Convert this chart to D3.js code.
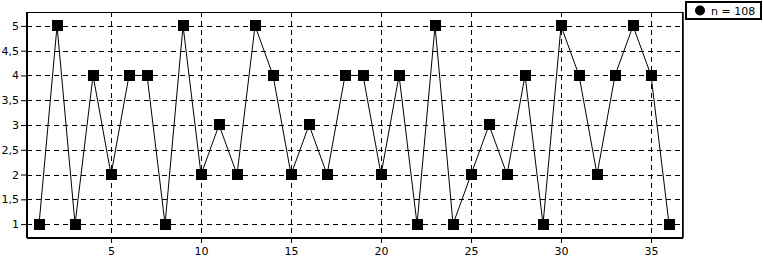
<!DOCTYPE html>
<html>
<head>
<meta charset="utf-8">
<script src="https://cdn.jsdelivr.net/npm/d3@7"></script>
<style>
  html, body { margin: 0; padding: 0; background: #fff; }
  text { font-family: "DejaVu Sans", sans-serif; font-size: 11px; fill: #000; }
</style>
</head>
<body>
<div id="plot"></div>
<script>
// data
var xValues = [1, 2, 3, 4, 5, 6, 7, 8, 9, 10, 11, 12, 13, 14, 15, 16, 17, 18,
  19, 20, 21, 22, 23, 24, 25, 26, 27, 28, 29, 30, 31, 32, 33, 34, 35, 36];
var yValues = [1, 5, 1, 4, 2, 4, 4, 1, 5, 2, 3, 2, 5, 4, 2, 3, 2, 4,
  4, 2, 4, 1, 5, 1, 2, 3, 2, 4, 1, 5, 4, 2, 4, 5, 4, 1];
var xTicks = [5, 10, 15, 20, 25, 30, 35];
var yTicks = [1, 1.5, 2, 2.5, 3, 3.5, 4, 4.5, 5];
var legendLabel = "n = 108";

var data = xValues.map(function(x, i) { return {x: x, y: yValues[i]}; });

var margin = {top: 12, right: 81, bottom: 22, left: 27};
var width = 763 - margin.left - margin.right;
var height = 259 - margin.top - margin.bottom;

var svg = d3.select("#plot")
  .append("svg")
  .attr("width", 763)
  .attr("height", 259);

var g = svg.append("g")
  .attr("transform", `translate(${margin.left}, ${margin.top})`);

var x = d3.scaleLinear()
  .domain([0.33, 36.72])
  .range([0, width]);

var y = d3.scaleLinear()
  .domain([0.74, 5.28])
  .range([height, 0]);

// grid
g.append("g")
  .selectAll("line")
  .data(yTicks)
  .join("line")
  .attr("x1", 0)
  .attr("x2", width)
  .attr("y1", d => Math.round(y(d)) + 0.5)
  .attr("y2", d => Math.round(y(d)) + 0.5)
  .attr("stroke", "#000")
  .attr("stroke-dasharray", "5,4");

g.append("g")
  .selectAll("line")
  .data(xTicks)
  .join("line")
  .attr("x1", d => Math.round(x(d)) + 0.5)
  .attr("x2", d => Math.round(x(d)) + 0.5)
  .attr("y1", 0)
  .attr("y2", height)
  .attr("stroke", "#000")
  .attr("stroke-dasharray", "5,4");

// frame
g.append("rect")
  .attr("x", 0.5)
  .attr("y", 0.5)
  .attr("width", width)
  .attr("height", height)
  .attr("fill", "none")
  .attr("stroke", "#000");

// Add Y axis
var yAxis = g.append("g")
  .call(d3.axisLeft(y)
    .tickValues(yTicks)
    .tickSize(6)
    .tickSizeOuter(0)
    .tickPadding(2)
    .tickFormat(d => String(d).replace(".", ",")));
yAxis.select(".domain").remove();
yAxis.selectAll("line").attr("stroke", "#000");
yAxis.selectAll("text").attr("font-size", 11).attr("font-family", "DejaVu Sans, sans-serif");

// Add X axis
var xAxis = g.append("g")
  .attr("transform", `translate(0, ${height})`)
  .call(d3.axisBottom(x)
    .tickValues(xTicks)
    .tickSize(6)
    .tickSizeOuter(0)
    .tickPadding(4));
xAxis.select(".domain").remove();
xAxis.selectAll("line").attr("stroke", "#000");
xAxis.selectAll("text").attr("font-size", 11).attr("font-family", "DejaVu Sans, sans-serif");

// thick left, bottom and right borders
g.append("line")
  .attr("x1", 0).attr("x2", 0)
  .attr("y1", 0).attr("y2", height + 1)
  .attr("stroke", "#000").attr("stroke-width", 2);
g.append("line")
  .attr("x1", 0).attr("x2", width + 1)
  .attr("y1", height + 1).attr("y2", height + 1)
  .attr("stroke", "#000").attr("stroke-width", 2);
g.append("line")
  .attr("x1", width + 1).attr("x2", width + 1)
  .attr("y1", 0).attr("y2", height + 1)
  .attr("stroke", "#000").attr("stroke-width", 1.5);

// Add the line
g.append("path")
  .datum(data)
  .attr("fill", "none")
  .attr("stroke", "#000")
  .attr("stroke-width", 1)
  .attr("d", d3.line()
    .x(d => x(d.x))
    .y(d => y(d.y)));

// square markers
var s = 11;
g.append("g")
  .selectAll("rect")
  .data(data)
  .join("rect")
  .attr("x", d => Math.round(x(d.x) - s / 2))
  .attr("y", d => Math.round(y(d.y) - s / 2))
  .attr("width", s)
  .attr("height", s)
  .attr("fill", "#000");

// legend
var legend = svg.append("g");
legend.append("rect")
  .attr("x", 686)
  .attr("y", 2)
  .attr("width", 75)
  .attr("height", 17)
  .attr("fill", "#fff")
  .attr("stroke", "#000")
  .attr("stroke-width", 2);
legend.append("circle")
  .attr("cx", 700)
  .attr("cy", 10.5)
  .attr("r", 5)
  .attr("fill", "#000");
legend.append("text")
  .attr("x", 711)
  .attr("y", 14.5)
  .text(legendLabel);
</script>
</body>
</html>
